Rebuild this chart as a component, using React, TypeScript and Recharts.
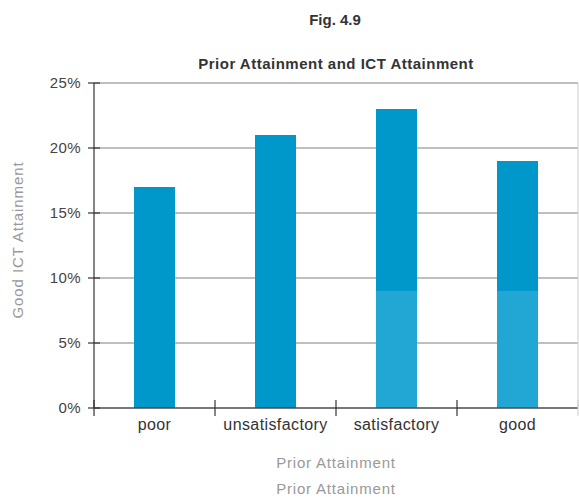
import React from "react";
import { BarChart, Bar, XAxis, YAxis, CartesianGrid, Label } from "recharts";

const categories = ["poor", "unsatisfactory", "satisfactory", "good"];
const lowerPart = [0, 0, 9, 9];
const upperPart = [17, 21, 14, 10];
const yTicks = [0, 5, 10, 15, 20, 25];

const data = categories.map((c, i) => ({ name: c, lower: lowerPart[i], upper: upperPart[i] }));

const FONT = "'Liberation Sans', Arial, sans-serif";
const AXIS_Y = 408;

const XTick = (props: any) => {
  const { x, y, payload, index } = props;
  const half = payload && typeof payload.offset === "number" && payload.offset > 0 ? payload.offset : 60.5;
  const bx = x - half;
  return (
    <g>
      <line x1={bx} x2={bx} y1={AXIS_Y - 8} y2={AXIS_Y + 8} stroke="#333" strokeWidth={1.2} />
      {index === categories.length - 1 ? (
        <line x1={x + half} x2={x + half} y1={AXIS_Y - 8} y2={AXIS_Y + 8} stroke="#ccc" strokeWidth={1} />
      ) : null}
      <text x={x} y={y} dy="0.71em" textAnchor="middle" fill="#333" fontSize={16} letterSpacing={0.4} fontFamily={FONT}>
        {payload.value}
      </text>
    </g>
  );
};

const YTick = (props: any) => {
  const { x, y, payload } = props;
  return (
    <g>
      <line x1={x + 6} x2={x + 18} y1={y} y2={y} stroke="#333" strokeWidth={1.2} />
      <text x={x - 1} y={y} dy="0.35em" textAnchor="end" fill="#444" fontSize={15} letterSpacing={0.4} fontFamily={FONT}>
        {payload.value}%
      </text>
    </g>
  );
};

export default function App() {
  return (
    <div style={{ position: "absolute", left: 0, top: 0, width: 579, height: 497, background: "#fff", fontFamily: FONT }}>
      <div style={{ position: "absolute", left: 0, width: 670, top: 11, textAlign: "center", fontSize: 15, fontWeight: "bold", color: "#333" }}>
        Fig. 4.9
      </div>
      <div style={{ position: "absolute", left: 0, width: 672, top: 55, textAlign: "center", fontSize: 15, letterSpacing: 0.5, fontWeight: "bold", color: "#333" }}>
        Prior Attainment and ICT Attainment
      </div>
      <BarChart width={579} height={497} data={data} margin={{ top: 83, right: 0, bottom: 0, left: 0 }} barSize={41}>
        <CartesianGrid vertical={false} stroke="#aaa" strokeWidth={1.5} />
        <XAxis
          dataKey="name"
          height={89}
          stroke="#333"
          strokeWidth={1.2}
          tickLine={false}
          tickSize={8}
          tickMargin={3}
          tick={<XTick />}
          interval={0}
        >
          <Label
            content={() => (
              <g>
                <text x={336} y={468} textAnchor="middle" fill="#999" fontSize={15} letterSpacing={0.8} fontFamily={FONT}>Prior Attainment</text>
                <text x={336} y={494} textAnchor="middle" fill="#999" fontSize={15} letterSpacing={0.8} fontFamily={FONT}>Prior Attainment</text>
              </g>
            )}
          />
        </XAxis>
        <YAxis
          width={94}
          domain={[0, 25]}
          ticks={yTicks}
          stroke="#333"
          strokeWidth={1.2}
          tickLine={false}
          tickSize={6}
          tickMargin={6}
          tick={<YTick />}
          interval={0}
        >
          <Label
            content={() => (
              <text x={23} y={240} transform="rotate(-90 23 240)" textAnchor="middle" fill="#999" fontSize={15} letterSpacing={0.9} fontFamily={FONT}>
                Good ICT Attainment
              </text>
            )}
          />
        </YAxis>
        <YAxis yAxisId="right" orientation="right" width={1} tick={false} tickLine={false} stroke="#ccc" />
        <Bar dataKey="lower" stackId="a" fill="#22a7d5" isAnimationActive={false} />
        <Bar dataKey="upper" stackId="a" fill="#0098cb" isAnimationActive={false} />
      </BarChart>
    </div>
  );
}
